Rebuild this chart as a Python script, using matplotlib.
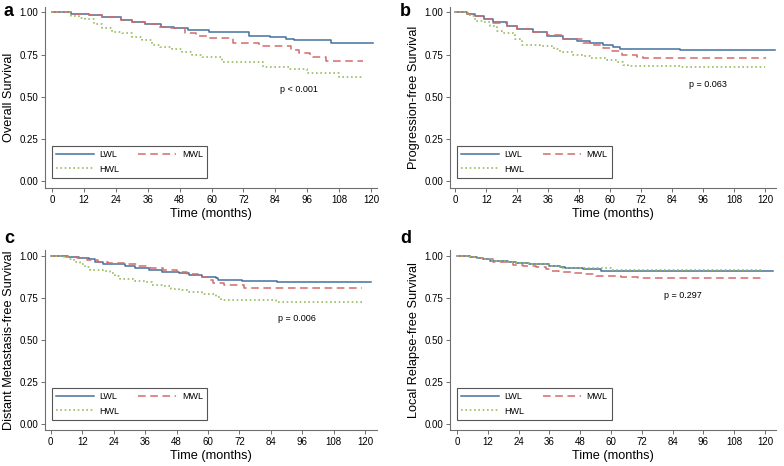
import matplotlib
matplotlib.use("Agg")
import matplotlib.pyplot as plt

plt.rcParams['font.family'] = ['Liberation Sans', 'DejaVu Sans']

# --- data ---
groups = ["LWL", "MWL", "HWL"]
months_ticks = [0, 12, 24, 36, 48, 60, 72, 84, 96, 108, 120]
surv_ticks = [0.0, 0.25, 0.5, 0.75, 1.0]

# a: overall survival
os_lwl_t = [0, 7, 14, 19, 26, 30, 35, 41, 46, 51, 59, 74, 82, 88, 91, 105, 120.5]
os_lwl_s = [1.0, 0.99, 0.982, 0.972, 0.954, 0.944, 0.93, 0.915, 0.905, 0.895, 0.881, 0.861, 0.852, 0.844, 0.836, 0.82, 0.82]
os_mwl_t = [0, 7, 14, 19, 26, 30, 35, 40, 43, 50, 54, 59, 68, 78, 90, 93, 97, 103, 117]
os_mwl_s = [1.0, 0.99, 0.982, 0.972, 0.954, 0.944, 0.93, 0.915, 0.905, 0.875, 0.861, 0.846, 0.82, 0.80, 0.776, 0.757, 0.737, 0.711, 0.711]
os_hwl_t = [0, 7, 10, 12.5, 15.7, 18.8, 22.5, 26.3, 30, 33.8, 37.6, 40.7, 45, 48.8, 52.6, 56.4, 64, 79.5, 89.5, 96, 108, 117]
os_hwl_s = [1.0, 0.976, 0.968, 0.96, 0.93, 0.905, 0.885, 0.875, 0.855, 0.836, 0.806, 0.792, 0.782, 0.766, 0.747, 0.733, 0.704, 0.678, 0.664, 0.642, 0.618, 0.618]

# b: progression-free survival
pfs_lwl_t = [0, 4.4, 7.6, 10.9, 14.7, 19.9, 23.8, 30.2, 35.4, 41.8, 47, 52.1, 57, 61.2, 63.8, 87, 123.8]
pfs_lwl_s = [1.0, 0.99, 0.98, 0.96, 0.941, 0.921, 0.901, 0.881, 0.862, 0.842, 0.832, 0.818, 0.805, 0.793, 0.784, 0.777, 0.777]
pfs_mwl_t = [0, 4.4, 7.6, 10.9, 14.7, 19.9, 23.8, 30.2, 35.4, 41.8, 49.6, 53.4, 57.3, 60, 64.4, 70.2, 72.8, 120.5]
pfs_mwl_s = [1.0, 0.99, 0.98, 0.962, 0.938, 0.921, 0.903, 0.884, 0.866, 0.845, 0.82, 0.805, 0.79, 0.768, 0.747, 0.737, 0.727, 0.727]
pfs_hwl_t = [0, 5, 5.7, 7.6, 10.9, 13.4, 16, 17.9, 23.1, 25.7, 32.8, 38, 40.5, 45.7, 49.6, 52.1, 58.6, 62.5, 65.1, 67, 87, 119.9]
pfs_hwl_s = [1.0, 0.99, 0.98, 0.951, 0.941, 0.921, 0.891, 0.878, 0.842, 0.807, 0.8, 0.783, 0.763, 0.747, 0.739, 0.727, 0.72, 0.708, 0.688, 0.68, 0.674, 0.674]

# c: distant metastasis-free survival
dmfs_lwl_t = [0, 6.7, 10.6, 14.4, 16.9, 20.1, 28.4, 32.3, 37.4, 42.5, 48.8, 52.7, 57.8, 62.9, 64, 73, 86.5, 122.2]
dmfs_lwl_s = [1.0, 0.996, 0.99, 0.98, 0.966, 0.952, 0.94, 0.927, 0.917, 0.905, 0.897, 0.887, 0.877, 0.867, 0.859, 0.853, 0.847, 0.847]
dmfs_mwl_t = [0, 6, 10, 14, 18, 22, 28, 33, 38, 43, 48, 52, 56, 60, 62, 66, 73.7, 118.6]
dmfs_mwl_s = [1.0, 0.995, 0.988, 0.978, 0.966, 0.958, 0.95, 0.94, 0.93, 0.918, 0.905, 0.89, 0.875, 0.86, 0.841, 0.825, 0.812, 0.812]
dmfs_hwl_t = [0, 4.9, 6.7, 8.7, 11.2, 13.1, 15, 20.1, 22.7, 24.6, 26.5, 32.3, 36.1, 38.6, 42.5, 45.7, 48.8, 52.7, 57.8, 62.9, 64.8, 85.9, 118.6]
dmfs_hwl_s = [1.0, 0.992, 0.984, 0.964, 0.954, 0.935, 0.917, 0.913, 0.901, 0.881, 0.861, 0.853, 0.847, 0.827, 0.821, 0.806, 0.796, 0.786, 0.776, 0.756, 0.738, 0.728, 0.728]

# d: local relapse-free survival
lrfs_lwl_t = [0, 5, 8, 10, 13, 20, 23, 28, 36, 40, 42, 49, 56, 123]
lrfs_lwl_s = [1.0, 0.995, 0.99, 0.982, 0.972, 0.962, 0.956, 0.95, 0.942, 0.933, 0.927, 0.921, 0.911, 0.911]
lrfs_mwl_t = [0, 5, 8, 10, 14, 21.7, 25.6, 30.7, 34.6, 37.2, 39.8, 45, 49, 54, 64, 70.6, 120]
lrfs_mwl_s = [1.0, 0.995, 0.99, 0.982, 0.962, 0.946, 0.94, 0.933, 0.923, 0.913, 0.903, 0.897, 0.891, 0.883, 0.873, 0.869, 0.869]
lrfs_hwl_t = [0, 5, 8, 10, 13, 20, 23, 28, 36, 40, 60, 119]
lrfs_hwl_s = [1.0, 0.995, 0.99, 0.982, 0.972, 0.966, 0.958, 0.95, 0.94, 0.927, 0.917, 0.917]

panel_letters = ["a", "b", "c", "d"]
ylabels = ["Overall Survival", "Progression-free Survival",
           "Distant Metastasis-free Survival", "Local Relapse-free Survival"]
pvalues = ["p < 0.001", "p = 0.063", "p = 0.006", "p = 0.297"]
pval_xy = [(93, 0.54), (98, 0.575), (94, 0.625), (88, 0.762)]

curves = [
    [(os_lwl_t, os_lwl_s), (os_mwl_t, os_mwl_s), (os_hwl_t, os_hwl_s)],
    [(pfs_lwl_t, pfs_lwl_s), (pfs_mwl_t, pfs_mwl_s), (pfs_hwl_t, pfs_hwl_s)],
    [(dmfs_lwl_t, dmfs_lwl_s), (dmfs_mwl_t, dmfs_mwl_s), (dmfs_hwl_t, dmfs_hwl_s)],
    [(lrfs_lwl_t, lrfs_lwl_s), (lrfs_mwl_t, lrfs_mwl_s), (lrfs_hwl_t, lrfs_hwl_s)],
]

colors = {"LWL": "#44729e", "MWL": "#d46b6b", "HWL": "#98bb60"}
styles = {"LWL": "-", "MWL": (0, (5, 3)), "HWL": (0, (1, 1.6))}

# axes boxes in figure fractions, x and y limits
boxes = [
    [0.0574, 0.5966, 0.4235, 0.3884],
    [0.574, 0.5966, 0.4158, 0.3884],
    [0.0574, 0.0773, 0.4235, 0.3863],
    [0.574, 0.0773, 0.4158, 0.3863],
]
xlims = [(-2.6, 122.2), (-2.1, 124.2), (-2.2, 124.5), (-2.7, 124.3)]
ylims = [(-0.042, 1.032), (-0.042, 1.032), (-0.036, 1.036), (-0.036, 1.036)]
legend_anchor = [(0.02, 0.055), (0.02, 0.055), (0.02, 0.055), (0.02, 0.055)]
letter_pos = [(0.005, 0.975), (0.51, 0.975), (0.005, 0.488), (0.51, 0.488)]

fig = plt.figure(figsize=(7.84, 4.66), dpi=100)
gray = "#6e6e6e"

for i in range(4):
    ax = fig.add_axes(boxes[i])
    handles = {}
    for g, (t, s) in zip(groups, curves[i]):
        h, = ax.step(t, s, where="post", color=colors[g], linestyle=styles[g],
                     linewidth=1.1 if g != "HWL" else 1.2, label=g)
        handles[g] = h
    ax.set_xlim(*xlims[i])
    ax.set_ylim(*ylims[i])
    ax.set_xticks(months_ticks)
    ax.set_yticks(surv_ticks)
    ax.set_yticklabels(["%.2f" % v for v in surv_ticks])
    for sp in ["top", "right"]:
        ax.spines[sp].set_visible(False)
    for sp in ["left", "bottom"]:
        ax.spines[sp].set_color(gray)
        ax.spines[sp].set_linewidth(0.8)
    ax.tick_params(direction="out", length=3, width=0.7, color=gray,
                   labelsize=7, pad=2)
    ax.set_xlabel("Time (months)", fontsize=9.2, labelpad=2)
    ax.set_ylabel(ylabels[i], fontsize=9.2, labelpad=3)
    ax.text(pval_xy[i][0], pval_xy[i][1], pvalues[i], fontsize=6.5,
            ha="center", va="center")
    leg = ax.legend([handles["LWL"], handles["HWL"], handles["MWL"]],
                    ["LWL", "HWL", "MWL"], ncol=2, loc="lower left",
                    bbox_to_anchor=legend_anchor[i], fontsize=6.5,
                    handlelength=4.2, handletextpad=0.6, columnspacing=2.1,
                    labelspacing=0.6, fancybox=False, framealpha=1,
                    borderpad=0.5, borderaxespad=0)
    leg.get_frame().set_edgecolor("#555555")
    leg.get_frame().set_linewidth(0.8)
    fig.text(letter_pos[i][0], letter_pos[i][1], panel_letters[i],
             fontsize=13, fontweight="bold", ha="left", va="center")

fig.savefig("out.png", dpi=100)
